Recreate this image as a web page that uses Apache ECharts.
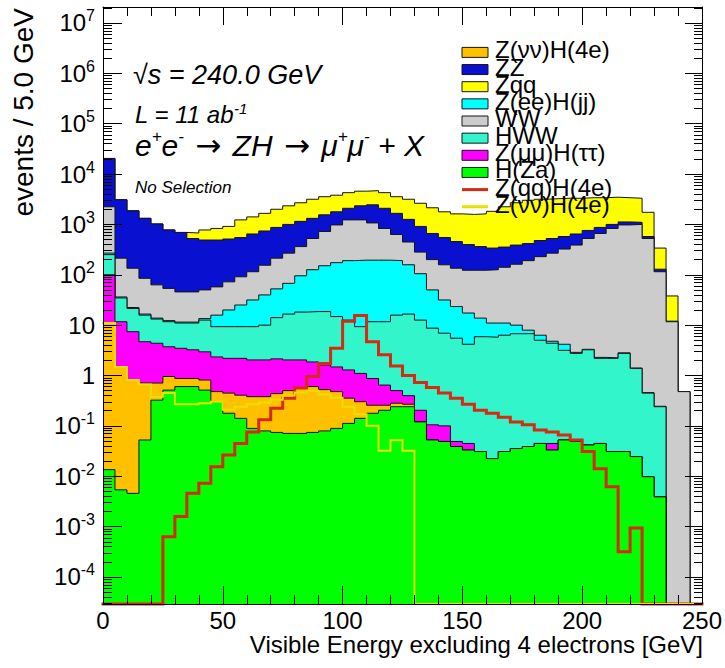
<!DOCTYPE html>
<html>
<head>
<meta charset="utf-8">
<script src="https://cdn.jsdelivr.net/npm/echarts@6.0.0/dist/echarts.min.js"></script>
<style>
  html, body { margin: 0; padding: 0; background: #fff; }
  #chart { width: 725px; height: 668px; }
</style>
</head>
<body>
<div id="chart"></div>
<script>
// lower edges of the 5 GeV bins
var binLow = [0, 5, 10, 15, 20, 25, 30, 35, 40, 45, 50, 55, 60, 65, 70, 75, 80, 85, 90, 95,
  100, 105, 110, 115, 120, 125, 130, 135, 140, 145, 150, 155, 160, 165, 170, 175, 180, 185, 190, 195,
  200, 205, 210, 215, 220, 225, 230, 235, 240, 245];
var binWidth = 5;

// stacked levels (events / 5 GeV), top of each process in the stack
var stackZqq = [20400, 3090, 1860, 1320, 1020, 776, 692, 676, 776, 832,
  912, 1230, 1410, 1660, 2000, 2340, 2690, 3160, 3550, 3800,
  4270, 4570, 4680, 4270, 3550, 3160, 2630, 2140, 1780, 1620,
  1580, 1620, 1820, 2240, 2690, 3020, 3160, 3240, 3310, 3310,
  3390, 3390, 3470, 3390, 3310, 1740, 339, 38.0, 0.479, 0];
var stackZZ = [20400, 3090, 1860, 1320, 1020, 776, 692, 525, 490, 490,
  513, 550, 646, 741, 871, 1000, 1150, 1320, 1550, 1780,
  2090, 2340, 2450, 2090, 1660, 1260, 912, 661, 550, 457,
  398, 363, 339, 355, 389, 417, 479, 525, 575, 646,
  759, 871, 1000, 1120, 1100, 575, 129, 12.0, 0.479, 0];
var stackWW = [2240, 214, 135, 85.1, 63.1, 53.7, 45.7, 45.7, 50.1, 57.5,
  72.4, 91.2, 115, 155, 214, 269, 363, 525, 724, 977,
  1230, 1230, 1070, 832, 631, 447, 282, 200, 158, 135,
  123, 123, 126, 141, 162, 191, 229, 269, 324, 389,
  525, 661, 832, 977, 1000, 525, 115, 11.7, 0.479, 0];
var stackZeeHjj = [269, 36.3, 22.4, 16.6, 13.8, 12.3, 11.5, 11.5, 13.5, 15.8,
  20.0, 25.1, 31.6, 39.8, 52.5, 67.6, 95.5, 126, 151, 174,
  191, 195, 195, 195, 191, 158, 105, 50.1, 31.6, 23.4,
  17.4, 13.8, 11.0, 11.0, 10.0, 7.94, 6.31, 4.79, 4.17, 2.88,
  3.31, 2.29, 2.24, 2.82, 1.41, 0.457, 0.245, 0, 0, 0];
var stackHWW = [251, 34.7, 21.4, 15.8, 13.2, 11.7, 11.0, 11.0, 12.6, 9.33,
  9.33, 9.33, 9.33, 10.0, 14.1, 16.6, 18.2, 18.6, 18.6, 14.8,
  12.6, 9.33, 11.7, 11.7, 15.8, 16.6, 12.6, 8.71, 6.92, 5.50,
  4.17, 5.89, 5.75, 6.31, 6.76, 6.76, 5.01, 4.37, 3.16, 2.75,
  3.24, 2.19, 2.19, 2.75, 1.38, 0.447, 0.240, 0, 0, 0];
var stackZmmHtt = [100, 11.7, 7.41, 4.68, 4.37, 3.72, 3.47, 3.24, 2.95, 2.34,
  2.19, 2.19, 2.04, 2.04, 2.14, 2.04, 2.04, 1.86, 1.62, 1.48,
  1.29, 1.10, 0.871, 0.646, 0.501, 0.398, 0.204, 0.105, 0.100, 0.0490,
  0.0447, 0.0309, 0.0224, 0.0309, 0.0355, 0.0389, 0.0447, 0.0447, 0.0525, 0.0490,
  0.0417, 0.0447, 0.0309, 0.0309, 0.0245, 0.00977, 0.00389, 0, 0, 0];
var stackZnnH4e = [11.0, 1.48, 0.813, 0.708, 0.708, 0.955, 0.871, 0.871, 0.813, 0.479,
  0.447, 0.407, 0.380, 0.380, 0.437, 0.501, 0.562, 0.603, 0.525, 0.479,
  0.355, 0.302, 0.257, 0.257, 0.282, 0.269, 0.120, 0.0525, 0.0490, 0.0389,
  0.0331, 0.0309, 0.0224, 0.0309, 0.0355, 0.0389, 0.0447, 0.0331, 0.0525, 0.0490,
  0.0417, 0.0447, 0.0309, 0.0309, 0.0245, 0.00977, 0.00389, 0, 0, 0];
var stackHZa = [0.0135, 0.00537, 0.00457, 0.0525, 0.324, 0.513, 0.603, 0.603, 0.513, 0.302,
  0.178, 0.141, 0.0891, 0.0794, 0.0741, 0.0708, 0.0708, 0.0741, 0.0794, 0.0891,
  0.112, 0.141, 0.178, 0.204, 0.240, 0.240, 0.120, 0.0525, 0.0490, 0.0389,
  0.0331, 0.0309, 0.0224, 0.0309, 0.0355, 0.0389, 0.0447, 0.0331, 0.0525, 0.0490,
  0.0417, 0.0447, 0.0309, 0.0309, 0.0245, 0.00977, 0.00389, 0, 0, 0];

// signal histograms drawn as lines, not stacked
var lineZqqH4e = [0, 0, 0, 0, 0, 0.000631, 0.00158, 0.00457, 0.00724, 0.0155,
  0.0263, 0.0447, 0.0759, 0.132, 0.224, 0.355, 0.562, 0.955, 1.74, 3.47,
  12.0, 15.5, 4.68, 2.57, 1.55, 1.00, 0.724, 0.575, 0.447, 0.355,
  0.269, 0.204, 0.178, 0.148, 0.120, 0.105, 0.0832, 0.0759, 0.0661, 0.0525,
  0.0309, 0.0141, 0.00617, 0.000316, 0.000933, 0, 0, 0, 0, 0];
var lineZnnH4e = [11.0, 1.47, 0.81, 0.66, 0.38, 0.45, 0.27, 0.27, 0.28, 0.30,
  0.21, 0.24, 0.27, 0.29, 0.33, 0.40, 0.46, 0.50, 0.42, 0.36,
  0.24, 0.17, 0.10, 0.032, 0.052, 0.032, 0, 0, 0, 0,
  0, 0, 0, 0, 0, 0, 0, 0, 0, 0,
  0, 0, 0, 0, 0, 0, 0, 0, 0, 0];

var yExponents = [-4, -3, -2, -1, 0, 1, 2, 3, 4, 5, 6, 7];

var YMIN = -4.537, YMAX = 7.317;   // log10 range of the frame
var FONT = 'Liberation Sans, Arial, Helvetica, sans-serif';
var EDGE = '#141414';

var colZnnH4e = '#ffc000';
var colZZ = '#0a10d0';
var colZqq = '#ffff00';
var colZeeHjj = '#00ffff';
var colWW = '#cccccc';
var colHWW = '#33f5cc';
var colZmmHtt = '#ff00ff';
var colHZa = '#00ff00';
var colRed = '#d62a12';
var colYel = '#e8e000';

function lg(v) {
  return v > 0 ? Math.log10(v) : YMIN;
}

// step points: one per lower bin edge plus the closing upper edge
function stepData(vals) {
  var pts = vals.map(function (v, i) { return [binLow[i], lg(v)]; });
  var last = vals.length - 1;
  pts.push([binLow[last] + binWidth, lg(vals[last])]);
  return pts;
}

function stackSeries(name, vals, color, z) {
  return {
    type: 'line', name: name, z: z, step: 'end', symbol: 'none', silent: true, clip: false,
    data: stepData(vals),
    lineStyle: { color: EDGE, width: 1 },
    areaStyle: { color: color, opacity: 1, origin: 'start' }
  };
}

function lineSeries(name, vals, color, width, z) {
  return {
    type: 'line', name: name, z: z, step: 'end', symbol: 'none', silent: true, clip: false,
    data: stepData(vals),
    lineStyle: { color: color, width: width, join: 'miter', cap: 'square' }
  };
}

// minor tick positions 2..9 x 10^n inside the frame
var yMinor = [];
for (var n = -5; n <= 7; n++) {
  for (var k = 2; k <= 9; k++) {
    var t = n + Math.log10(k);
    if (t > YMIN && t < YMAX) yMinor.push(t);
  }
}

var legendItems = [
  { text: 'Z(νν)H(4e)', color: colZnnH4e, kind: 'box' },
  { text: 'ZZ', color: colZZ, kind: 'box' },
  { text: 'Zqq', color: colZqq, kind: 'box' },
  { text: 'Z(ee)H(jj)', color: colZeeHjj, kind: 'box' },
  { text: 'WW', color: colWW, kind: 'box' },
  { text: 'HWW', color: colHWW, kind: 'box' },
  { text: 'Z(μμ)H(ττ)', color: colZmmHtt, kind: 'box' },
  { text: 'H(Za)', color: colHZa, kind: 'box' },
  { text: 'Z(qq)H(4e)', color: colRed, kind: 'line' },
  { text: 'Z(νν)H(4e)', color: colYel, kind: 'line' }
];

var graphics = [];
legendItems.forEach(function (it, i) {
  var cy = 52.4 + 17.15 * i;
  if (it.kind === 'box') {
    graphics.push({ type: 'rect', z: 30, shape: { x: 462, y: cy - 5, width: 26, height: 10 },
      style: { fill: it.color, stroke: EDGE, lineWidth: 1 } });
  } else {
    graphics.push({ type: 'line', z: 30, shape: { x1: 462, y1: cy, x2: 488, y2: cy },
      style: { stroke: it.color, lineWidth: 3 } });
  }
  graphics.push({ type: 'text', z: 30, x: 495, y: cy - 2.5,
    style: { text: it.text, fontSize: 24, fontFamily: FONT, fill: '#000', verticalAlign: 'middle' } });
});

var ital = { fontFamily: FONT, fontStyle: 'italic', fill: '#000' };
graphics.push({ type: 'text', z: 30, x: 133, y: 75,
  style: Object.assign({ text: '√s = 240.0 GeV', fontSize: 27, verticalAlign: 'middle' }, ital) });
graphics.push({ type: 'text', z: 30, x: 135, y: 114.6,
  style: { text: '{n|L = 11 ab}{s|-1}', verticalAlign: 'middle',
    rich: {
      n: { fontSize: 24, fontFamily: FONT, fontStyle: 'italic', color: '#000', lineHeight: 28 },
      s: { fontSize: 15, fontFamily: FONT, fontStyle: 'italic', color: '#000', lineHeight: 15, verticalAlign: 'top' }
    } } });
graphics.push({ type: 'text', z: 30, x: 135, y: 145,
  style: { text: '{n|e}{s|+}{n|e}{s|-}{n| }{a|→}{n| ZH }{a|→}{n| μ}{s|+}{n|μ}{s|-}{n| + X}', verticalAlign: 'middle',
    rich: {
      n: { fontSize: 30, fontFamily: FONT, fontStyle: 'italic', color: '#000', lineHeight: 34 },
      a: { fontSize: 31, fontFamily: 'DejaVu Sans', color: '#000', lineHeight: 34, padding: [0, 3, 0, 3] },
      s: { fontSize: 17, fontFamily: FONT, fontStyle: 'italic', color: '#000', lineHeight: 17, verticalAlign: 'top' }
    } } });
graphics.push({ type: 'text', z: 30, x: 135, y: 187,
  style: Object.assign({ text: 'No Selection', fontSize: 17, verticalAlign: 'middle' }, ital) });

graphics.push({ type: 'text', z: 30, x: 23, y: 8, rotation: Math.PI / 2,
  style: { text: 'events / 5.0 GeV', fontSize: 28, fontFamily: FONT, fill: '#000',
    align: 'right', verticalAlign: 'middle' } });
graphics.push({ type: 'text', z: 30, x: 703, y: 644,
  style: { text: 'Visible Energy excluding 4 electrons [GeV]', fontSize: 24, fontFamily: FONT,
    fill: '#000', align: 'right', verticalAlign: 'middle' } });

var frameLine = { show: true, onZero: false, lineStyle: { color: '#000', width: 1 } };
var tickStyle = { color: '#000', width: 1 };

var option = {
  animation: false,
  backgroundColor: '#fff',
  textStyle: { fontFamily: FONT },
  grid: [
    { left: 103, top: 7, width: 600, height: 597 },
    { left: 103, top: 7, width: 600, height: 597 }
  ],
  xAxis: [
    { gridIndex: 0, type: 'value', min: 0, max: 250, interval: 50, position: 'bottom', z: 20,
      axisLine: frameLine,
      axisTick: { inside: true, length: 18, lineStyle: tickStyle },
      minorTick: { show: true, splitNumber: 5, length: 9, lineStyle: tickStyle },
      axisLabel: { fontSize: 24, color: '#000', margin: 4, fontFamily: FONT },
      splitLine: { show: false } },
    { gridIndex: 0, type: 'value', min: 0, max: 250, interval: 50, position: 'top', z: 20,
      axisLine: frameLine,
      axisTick: { inside: true, length: 18, lineStyle: tickStyle },
      minorTick: { show: true, splitNumber: 5, length: 9, lineStyle: tickStyle },
      axisLabel: { show: false },
      splitLine: { show: false } },
    { gridIndex: 1, type: 'value', min: 0, max: 250, show: false, axisLine: { onZero: false } }
  ],
  yAxis: [
    { gridIndex: 0, type: 'value', min: YMIN, max: YMAX, position: 'left', z: 20,
      axisLine: frameLine,
      axisTick: { inside: true, length: 19, lineStyle: tickStyle, customValues: yExponents },
      axisLabel: {
        customValues: yExponents, margin: 8,
        formatter: function (v) {
          var e = Math.round(v);
          if (e === 0) return '{b|1}';
          if (e === 1) return '{b|10}';
          return '{b|10}{s|' + e + '}';
        },
        rich: {
          b: { fontSize: 24, color: '#000', fontFamily: FONT, lineHeight: 30 },
          s: { fontSize: 16, color: '#000', fontFamily: FONT, lineHeight: 16, verticalAlign: 'top' }
        }
      },
      splitLine: { show: false } },
    { gridIndex: 0, type: 'value', min: YMIN, max: YMAX, position: 'right', z: 20,
      axisLine: frameLine,
      axisTick: { inside: true, length: 17, lineStyle: tickStyle, customValues: yExponents },
      axisLabel: { show: false },
      splitLine: { show: false } },
    { gridIndex: 1, type: 'value', min: YMIN, max: YMAX, position: 'left', z: 20,
      axisLine: { show: false, onZero: false },
      axisTick: { inside: true, length: 9, lineStyle: tickStyle, customValues: yMinor },
      axisLabel: { show: false },
      splitLine: { show: false } },
    { gridIndex: 1, type: 'value', min: YMIN, max: YMAX, position: 'right', z: 20,
      axisLine: { show: false, onZero: false },
      axisTick: { inside: true, length: 9, lineStyle: tickStyle, customValues: yMinor },
      axisLabel: { show: false },
      splitLine: { show: false } }
  ],
  series: [
    stackSeries('Zqq', stackZqq, colZqq, 2),
    stackSeries('ZZ', stackZZ, colZZ, 3),
    stackSeries('WW', stackWW, colWW, 4),
    stackSeries('Z(ee)H(jj)', stackZeeHjj, colZeeHjj, 5),
    stackSeries('HWW', stackHWW, colHWW, 6),
    stackSeries('Z(μμ)H(ττ)', stackZmmHtt, colZmmHtt, 7),
    stackSeries('Z(νν)H(4e)', stackZnnH4e, colZnnH4e, 8),
    stackSeries('H(Za)', stackHZa, colHZa, 9),
    lineSeries('Z(qq)H(4e)', lineZqqH4e, colRed, 3, 10),
    lineSeries('Z(νν)H(4e) line', lineZnnH4e, colYel, 2, 11)
  ],
  graphic: graphics
};

var chart = echarts.init(document.getElementById('chart'), null, { renderer: 'svg' });
chart.setOption(option);
</script>
</body>
</html>
